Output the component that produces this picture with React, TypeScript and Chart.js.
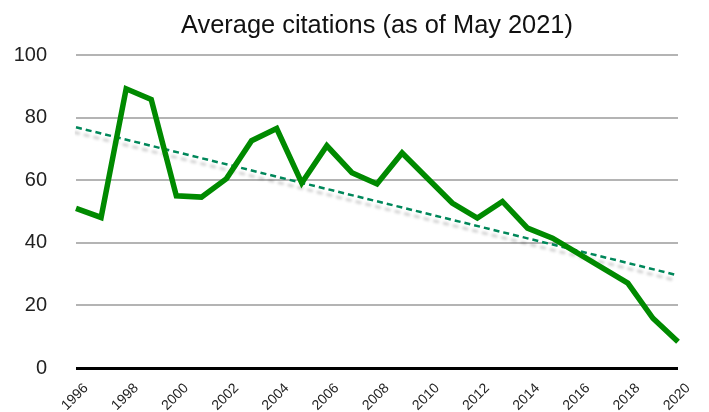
import React, { useEffect, useRef } from "react";
import { Chart, registerables } from "chart.js";

Chart.register(...registerables);

const years = [
  "1996", "1997", "1998", "1999", "2000", "2001", "2002", "2003", "2004",
  "2005", "2006", "2007", "2008", "2009", "2010", "2011", "2012", "2013",
  "2014", "2015", "2016", "2017", "2018", "2019", "2020",
];

const avgCitations = [
  51, 48.1, 89.2, 85.8, 55.0, 54.6, 60.5, 72.6, 76.5, 59.1, 71, 62.4, 58.8,
  68.7, 60.7, 52.7, 47.9, 53.2, 44.7, 41.5, 36.7, 31.9, 27.1, 15.9, 8.4,
];

const trendLine: (number | null)[] = [
  76.9, null, null, null, null, null, null, null, null, null, null, null, null,
  null, null, null, null, null, null, null, null, null, null, null, 29.6,
];

const xTickLabels = [
  "1996", "1998", "2000", "2002", "2004", "2006", "2008", "2010", "2012",
  "2014", "2016", "2018", "2020",
];

const titleText = "Average citations (as of May 2021)";

const yMin = 0;
const yMax = 100;
const yStep = 20;

const FONT = "'Liberation Sans', Helvetica, Arial, sans-serif";

const shadowPlugin = {
  id: "trendShadow",
  beforeDatasetDraw(chart: any, args: any) {
    if (args.index === 1) {
      const ctx = chart.ctx;
      ctx.save();
      ctx.shadowColor = "rgba(0,0,0,0.22)";
      ctx.shadowBlur = 3;
      ctx.shadowOffsetX = -2;
      ctx.shadowOffsetY = 5;
    }
  },
  afterDatasetDraw(chart: any, args: any) {
    if (args.index === 1) {
      chart.ctx.restore();
    }
  },
};

const titlePlugin = {
  id: "centeredTitle",
  afterDraw(chart: any) {
    const { ctx, chartArea } = chart;
    ctx.save();
    ctx.font = `25.4px ${FONT}`;
    ctx.fillStyle = "#111";
    ctx.textAlign = "center";
    ctx.textBaseline = "alphabetic";
    ctx.fillText(titleText, (chartArea.left + chartArea.right) / 2, 33);
    ctx.restore();
  },
};

export default function App() {
  const canvasRef = useRef<HTMLCanvasElement | null>(null);

  useEffect(() => {
    document.body.style.margin = "0";
    if (!canvasRef.current) return;
    const chart = new Chart(canvasRef.current, {
      type: "line",
      data: {
        labels: years,
        datasets: [
          {
            label: "Average citations",
            data: avgCitations,
            borderColor: "#008a00",
            borderWidth: 5.5,
            pointRadius: 0,
            tension: 0,
            borderJoinStyle: "miter",
            fill: false,
          },
          {
            label: "Trend",
            data: trendLine,
            spanGaps: true,
            borderColor: "#00875a",
            borderWidth: 2.5,
            borderDash: [6, 4],
            pointRadius: 0,
            fill: false,
          },
        ],
      },
      options: {
        animation: false,
        responsive: false,
        devicePixelRatio: 1,
        layout: { padding: { left: 13, right: 31, top: 55, bottom: 0 } },
        plugins: {
          legend: { display: false },
          tooltip: { enabled: false },
          title: { display: false },
        },
        scales: {
          x: {
            offset: false,
            grid: { display: false },
            border: { display: false },
            afterFit: (scale: any) => {
              scale.paddingLeft = 0;
              scale.paddingRight = 0;
              scale.height = 44;
            },
            ticks: {
              autoSkip: false,
              maxRotation: 45,
              minRotation: 45,
              padding: 4,
              labelOffset: 10,
              color: "#222",
              font: { family: FONT, size: 14 },
              callback: (_v: any, i: number) =>
                xTickLabels.includes(years[i]) ? years[i] : "",
            },
          },
          y: {
            min: yMin,
            max: yMax,
            border: { display: false },
            afterFit: (scale: any) => {
              scale.width = 63;
            },
            grid: {
              drawTicks: false,
              color: (c: any) => (c.tick && c.tick.value === 0 ? "#000" : "#b4b4b4"),
              lineWidth: (c: any) => (c.tick && c.tick.value === 0 ? 3 : 2),
            },
            ticks: {
              stepSize: yStep,
              padding: 29,
              color: "#222",
              font: { family: FONT, size: 20 },
            },
          },
        },
      },
      plugins: [shadowPlugin, titlePlugin],
    });
    return () => chart.destroy();
  }, []);

  return (
    <div style={{ position: "absolute", left: 0, top: 0, width: 709, height: 412 }}>
      <canvas ref={canvasRef} width={709} height={412} />
    </div>
  );
}
